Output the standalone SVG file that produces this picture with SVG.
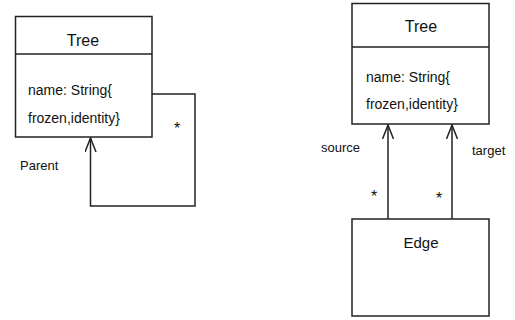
<svg xmlns="http://www.w3.org/2000/svg" width="515" height="320" viewBox="0 0 515 320">
<style>
.box{fill:#fff;stroke:#222;stroke-width:1.5}
.ln{fill:none;stroke:#222;stroke-width:1.5}
text{font-family:"Liberation Sans",Arial,sans-serif;fill:#111}
.t{font-size:16px;text-anchor:middle}
.a{font-size:14px}
.s{font-size:16px}
.l{font-size:13px}
</style>
<defs>
<marker id="open" viewBox="0 0 16 12" refX="15" refY="6" markerWidth="16" markerHeight="12" markerUnits="userSpaceOnUse" orient="auto">
<path d="M1,0.5 L15,6 L1,11.5" fill="none" stroke="#222" stroke-width="1.5"/>
</marker>
</defs>
<g id="connectors">
<path class="ln" d="M152,94 H195 V206 H90.5 V138" marker-end="url(#open)"/>
<path class="ln" d="M388,219 V125" marker-end="url(#open)"/>
<path class="ln" d="M452,219 V125" marker-end="url(#open)"/>
<text class="s" x="174" y="134">*</text>
<text class="l" x="20" y="170">Parent</text>
<text class="l" x="321" y="152">source</text>
<text class="l" x="472" y="155">target</text>
<text class="s" x="371" y="202">*</text>
<text class="s" x="436" y="204">*</text>
</g>
<g id="tree1">
<rect class="box" x="15.5" y="16.5" width="136.5" height="120.5"/>
<line class="ln" x1="15.5" y1="54" x2="152" y2="54"/>
<text class="t" x="83" y="46">Tree</text>
<text class="a" x="28" y="95">name: String{</text>
<text class="a" x="28" y="123">frozen,identity}</text>
</g>
<g id="tree2">
<rect class="box" x="352" y="3.5" width="137" height="120.5"/>
<line class="ln" x1="352" y1="47" x2="489" y2="47"/>
<text class="t" x="421" y="32">Tree</text>
<text class="a" x="366" y="82">name: String{</text>
<text class="a" x="366" y="109">frozen,identity}</text>
</g>
<g id="edge">
<rect class="box" x="352" y="219" width="137" height="97"/>
<text class="t" x="421" y="248" style="font-size:15px">Edge</text>
</g>
</svg>
